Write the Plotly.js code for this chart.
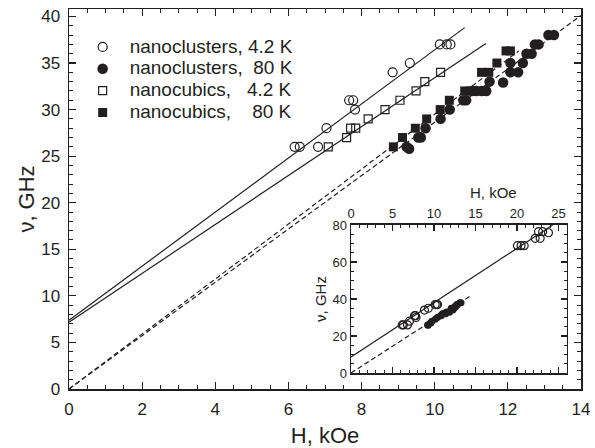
<!DOCTYPE html>
<html>
<head>
<meta charset="utf-8">
<script src="https://cdn.plot.ly/plotly-3.0.1.min.js"></script>
<style>html,body{margin:0;padding:0;background:#fff;}#chart{width:595px;height:448px;}</style>
</head>
<body>
<div id="chart"></div>
<script>
// ---- data ----
const clusters42H = [6.17, 6.31, 6.81, 7.04, 7.66, 7.77, 7.82, 8.85, 9.32, 10.14, 10.33, 10.43, 20.06, 20.5, 20.87, 22.2, 22.6, 22.8, 23.1, 23.8];
const clusters42V = [26, 26, 26, 28, 31, 31, 30, 34, 35, 37, 37, 37, 68.8, 68.8, 68.8, 72.8, 76.4, 72.8, 76.4, 75.8];

const clusters80H = [9.23, 9.30, 9.55, 9.62, 9.75, 10.16, 10.41, 10.78, 10.86, 11.02, 11.14, 11.28, 11.41, 11.50, 11.87, 12.07, 12.28, 12.07, 12.41, 12.51, 12.65, 12.74, 12.84, 13.11, 13.26];
const clusters80V = [26, 25.8, 27, 27, 28, 29, 30, 31, 31, 32, 32, 32, 32, 33, 32.9, 34, 34, 35, 35, 36, 36, 37, 37, 38, 38];

const cubics42H = [7.09, 7.59, 7.70, 7.84, 8.18, 8.64, 9.05, 9.49, 9.73, 10.16];
const cubics42V = [26, 27, 28, 28, 29, 30, 31, 32, 33, 34];

const cubics80H = [8.87, 9.12, 9.47, 9.78, 10.15, 10.40, 10.82, 10.97, 11.28, 11.48, 11.70, 11.95, 12.07];
const cubics80V = [26, 27, 28, 29, 30, 31, 32, 32, 34, 34, 35, 36.3, 36.3];

// fitted lines (end points)
const fitClusters42H = [0, 10.82];
const fitClusters42V = [7.38, 38.8];
const fitCubics42H = [0, 11.4];
const fitCubics42V = [7.16, 37.1];
const fitClusters80H = [0, 14];
const fitClusters80V = [0, 40.1];
const fitCubics80H = [0, 12.3];
const fitCubics80V = [0, 36.3];

// inset lines
const insetSolidH = [0, 24.3];
const insetSolidV = [8.7, 80];
const insetDashH = [0, 14.6];
const insetDashV = [0, 42.2];

const legendNames = [
  'nanoclusters, 4.2\u00a0K',
  'nanoclusters,\u00a0\u00a080\u00a0K',
  'nanocubics,\u00a0\u00a0\u00a04.2\u00a0K',
  'nanocubics,\u00a0\u00a0\u00a0\u00a080\u00a0K'
];

const mainXTicks = [0, 2, 4, 6, 8, 10, 12, 14];
const mainYTicks = [0, 5, 10, 15, 20, 25, 30, 35, 40];

// ---- styling ----
const INK = '#231f20';
const lineStyle = {color: INK, width: 1.2};
const dashStyle = {color: INK, width: 1.2, dash: '5px,3px'};
const big = s => '<span style="font-size:19px">' + s + '</span>';

const traces = [
  {x: fitClusters42H, y: fitClusters42V, mode: 'lines', line: lineStyle, showlegend: false, hoverinfo: 'skip'},
  {x: fitCubics42H, y: fitCubics42V, mode: 'lines', line: lineStyle, showlegend: false, hoverinfo: 'skip'},
  {x: fitClusters80H, y: fitClusters80V, mode: 'lines', line: dashStyle, showlegend: false, hoverinfo: 'skip'},
  {x: fitCubics80H, y: fitCubics80V, mode: 'lines', line: dashStyle, showlegend: false, hoverinfo: 'skip'},

  {x: clusters42H, y: clusters42V, mode: 'markers', name: big(legendNames[0]),
   marker: {symbol: 'circle-open', size: 9, color: INK, line: {width: 1.2, color: INK}}},
  {x: clusters80H, y: clusters80V, mode: 'markers', name: big(legendNames[1]),
   marker: {symbol: 'circle', size: 10.5, color: INK}},
  {x: cubics42H, y: cubics42V, mode: 'markers', name: big(legendNames[2]),
   marker: {symbol: 'square-open', size: 8, color: INK, line: {width: 1.2, color: INK}}},
  {x: cubics80H, y: cubics80V, mode: 'markers', name: big(legendNames[3]),
   marker: {symbol: 'square', size: 9, color: INK}},

  // inset
  {x: insetSolidH, y: insetSolidV, xaxis: 'x2', yaxis: 'y2', mode: 'lines', line: lineStyle, showlegend: false, hoverinfo: 'skip'},
  {x: insetDashH, y: insetDashV, xaxis: 'x2', yaxis: 'y2', mode: 'lines', line: dashStyle, showlegend: false, hoverinfo: 'skip'},
  {x: clusters80H, y: clusters80V, xaxis: 'x2', yaxis: 'y2', mode: 'markers', showlegend: false,
   marker: {symbol: 'circle', size: 7, color: INK}},
  {x: clusters42H, y: clusters42V, xaxis: 'x2', yaxis: 'y2', mode: 'markers', showlegend: false,
   marker: {symbol: 'circle-open', size: 8, color: INK, line: {width: 1.2, color: INK}}}
];

function axisBase(extra) {
  return Object.assign({
    showgrid: false, zeroline: false, showline: true, linecolor: INK, linewidth: 1.5,
    ticks: 'inside', tickcolor: INK, tickwidth: 1.2, mirror: 'ticks',
    tickfont: {size: 17, color: INK}
  }, extra);
}

const layout = {
  width: 595, height: 448,
  margin: {l: 69, r: 14, t: 9, b: 59, pad: 0},
  paper_bgcolor: '#ffffff', plot_bgcolor: '#ffffff',
  font: {family: 'Liberation Sans, Arial, sans-serif', color: INK},
  showlegend: true,
  legend: {x: 0.013, y: 0.942, xanchor: 'left', yanchor: 'top', bgcolor: 'rgba(0,0,0,0)',
           font: {size: 14.5, color: INK}, itemwidth: 44, tracegroupgap: 0},
  xaxis: axisBase({range: [0, 14], tickvals: mainXTicks, ticklen: 7,
    minor: {dtick: 0.5, ticks: 'inside', ticklen: 4, tickcolor: INK, tickwidth: 1},
    ticklabelstandoff: 4,
    title: {text: 'H, kOe', font: {size: 22, color: INK}, standoff: 10}}),
  yaxis: axisBase({range: [0, 40.8], tickvals: mainYTicks, ticklen: 7,
    minor: {dtick: 1, ticks: 'inside', ticklen: 4, tickcolor: INK, tickwidth: 1},
    ticklabelstandoff: 4,
    title: {text: '\u03bd, GHz', font: {size: 22, color: INK}, standoff: 0}}),
  xaxis2: axisBase({domain: [0.5508, 0.9721], anchor: 'y2', side: 'top', range: [0, 26],
    dtick: 5, tick0: 0, ticklen: 6, tickfont: {size: 13, color: INK},
    minor: {dtick: 1, ticks: 'inside', ticklen: 3, tickcolor: INK, tickwidth: 1}}),
  yaxis2: axisBase({domain: [0.0421, 0.4316], anchor: 'x2', range: [0, 80],
    dtick: 20, tick0: 0, ticklen: 6, tickfont: {size: 13, color: INK},
    minor: {dtick: 5, ticks: 'inside', ticklen: 3, tickcolor: INK, tickwidth: 1},
    title: {text: '\u03bd, GHz', font: {size: 15, color: INK}, standoff: 2}}),
  annotations: [
    {text: 'H, kOe', xref: 'paper', yref: 'paper', x: 0.830, y: 0.518, xanchor: 'center', yanchor: 'middle',
     showarrow: false, font: {size: 15, color: INK}}
  ]
};

Plotly.newPlot('chart', traces, layout, {displayModeBar: false, staticPlot: true});
</script>
</body>
</html>
